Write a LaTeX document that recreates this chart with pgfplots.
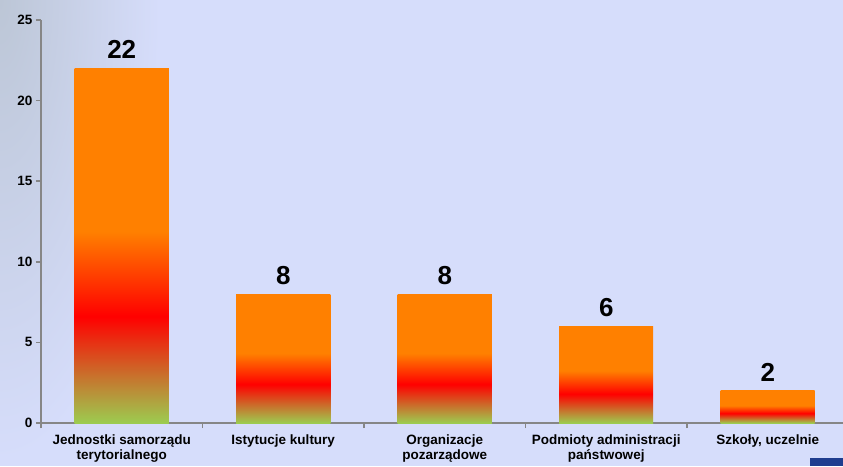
\documentclass[border=0pt]{standalone}
\usepackage{fontspec}
\setmainfont{Liberation Sans}
\usepackage{pgfplots}
\pgfplotsset{compat=1.18}
\definecolor{bg}{HTML}{D6DDFB}
\definecolor{axgray}{HTML}{868686}
\definecolor{barorange}{HTML}{FF8000}
\definecolor{barred}{HTML}{FF0000}
\definecolor{bargreen}{HTML}{9CCC50}
\definecolor{cornergray}{HTML}{BCC6D6}
\definecolor{logoblue}{HTML}{1F3D8F}
% the middle part (25bp..75bp) is mapped onto each bar: green -> red -> orange
\pgfdeclareverticalshading{barshade}{100bp}{color(0bp)=(bargreen); color(25bp)=(bargreen); color(40bp)=(barred); color(52bp)=(barorange); color(100bp)=(barorange)}

\begin{document}
\begin{tikzpicture}
\useasboundingbox (0,0) rectangle (843pt,466pt);
\fill[bg] (0,0) rectangle (843pt,466pt);
\begin{scope}
  \clip (0,0) rectangle (843pt,466pt);
  \shade[inner color=cornergray, outer color=bg] (0,466pt) ellipse (160pt and 460pt);
\end{scope}
\fill[logoblue] (810pt,0) rectangle (843pt,8pt);

\begin{axis}[
  at={(41pt,43pt)}, anchor=south west,
  scale only axis, width=802pt, height=403pt,
  xmin=-0.5, xmax=4.466, ymin=0, ymax=25,
  axis x line*=bottom, axis y line*=left,
  axis line style={-, axgray, line width=1.6pt},
  tick style={axgray, line width=1.6pt},
  tick align=outside,
  major tick length=5pt, minor tick length=5pt,
  ytick={0,5,...,25},
  yticklabels={\textbf{0},\textbf{5},\textbf{10},\textbf{15},\textbf{20},\textbf{25}},
  xtick={0,1,2,3,4},
  major x tick style={draw=none},
  minor xtick={-0.5,0.5,1.5,2.5,3.5},
  xticklabels={{\textbf{Jednostki samorządu}\\\textbf{terytorialnego}},{\textbf{Istytucje kultury}},{\textbf{Organizacje}\\\textbf{pozarządowe}},{\textbf{Podmioty administracji}\\\textbf{państwowej}},{\textbf{Szkoły, uczelnie}}},
  tick label style={font=\fontsize{13.5}{15}\selectfont},
  xticklabel style={align=center, yshift=-6pt, inner sep=1pt},
  /pgf/number format/assume math mode=true,
  shadebar/.style={ybar, bar width=94pt, bar shift=0pt, draw=none, shade, shading=barshade,
    nodes near coords,
    every node near coord/.append style={font=\bfseries\fontsize{26}{26}\selectfont, black, yshift=6pt}},
]
\addplot[shadebar] coordinates {(0,22)};
\addplot[shadebar] coordinates {(1,8)};
\addplot[shadebar] coordinates {(2,8)};
\addplot[shadebar] coordinates {(3,6)};
\addplot[shadebar] coordinates {(4,2)};
\end{axis}
\end{tikzpicture}
\end{document}
